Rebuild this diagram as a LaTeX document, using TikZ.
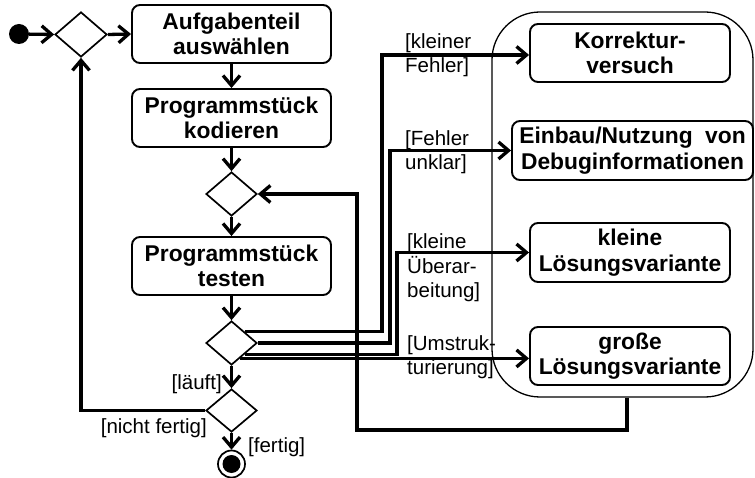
\documentclass[tikz,border=0pt]{standalone}
\usepackage{fontspec}
\setmainfont{Liberation Sans}
\usetikzlibrary{shapes.geometric,arrows.meta,calc}
\begin{document}
\begin{tikzpicture}[x=1pt,y=-1pt,
  box/.style={draw, line width=1.9pt, rounded corners=8pt, minimum width=199pt, minimum height=58pt, align=center, font=\bfseries\fontsize{22.8}{25.5}\selectfont, inner sep=0pt},
  dia/.style={draw, diamond, line width=1.7pt, minimum width=51pt, minimum height=44pt, inner sep=0pt},
  con/.style={line width=3.3pt, -{Straight Barb[length=10pt,width=17pt]}},
  lbl/.style={font=\fontsize{20.5}{24.5}\selectfont, inner sep=0pt, align=left}]
\useasboundingbox (0,0) rectangle (755,478);
% container region
\node (region) [draw, line width=1.3pt, rounded corners=48pt, minimum width=261pt, minimum height=385pt, inner sep=0pt] at (622.5,204.5) {};
% start
\node (start) [circle, fill=black, minimum size=20pt, inner sep=0pt] at (19,34) {};
\node (d1) [dia, minimum width=52pt, minimum height=45pt] at (81,34.5) {};
\node (b1) [box] at (231.5,34) {Aufgabenteil\\auswählen};
\node (b2) [box] at (231.5,118) {Programmstück\\kodieren};
\node (d2) [dia] at (231.5,194) {};
\node (b3) [box] at (231.5,266) {Programmstück\\testen};
\node (d3) [dia] at (231.5,343) {};
\node (d4) [dia, minimum height=43pt] at (231.5,410.5) {};
\node (endo) [circle, draw, line width=1.7pt, minimum size=27pt, inner sep=0pt] at (231.5,464) {};
\node (endi) [circle, fill=black, minimum size=18pt, inner sep=0pt] at (231.5,464) {};
% right boxes
\node (korr) [box, minimum width=200pt] at (630,53) {Korrektur-\\versuch};
\node (einb) [box, minimum width=241pt, minimum height=59pt] at (632.5,150.5) {Einbau/Nutzung\hspace{6pt} von\\Debuginformationen};
\node (klein) [box, minimum width=200pt, minimum height=59pt] at (630,252.5) {kleine\\Lösungsvariante};
\node (gross) [box, minimum width=200pt] at (630,356) {große\\Lösungsvariante};
% connectors
\draw[con] (start) -- (d1.west);
\draw[con] (d1.east) -- (b1.west);
\draw[con] (b1.south) -- (b2.north);
\draw[con] (b2.south) -- (d2.north);
\draw[con] (d2.south) -- (b3.north);
\draw[con] (b3.south) -- (d3.north);
\draw[con] (d3.south) -- (d4.north);
\draw[con] (d4.south) -- (endo.north);
\draw[con] (d4.west) -| (d1.south);
\coordinate (p1) at (d3.north east);
\coordinate (p2) at (d3.east);
\coordinate (p3) at (d3.south east);
\coordinate (p4) at ($(d3.south east)!0.35!(d3.south)$);
\coordinate (v1) at (382,0);
\coordinate (v2) at (390,0);
\coordinate (v3) at (397,0);
\draw[con] (p1) -- (p1 -| v1) |- ($(korr.west)+(0,2)$);
\draw[con] (p2) -- (p2 -| v2) |- (einb.west);
\draw[con] (p3) -- (p3 -| v3) |- (klein.west);
\draw[con] (p4) -- (p4 -| gross.west);
\coordinate (r0) at ([xshift=4.5pt]region.south);
\coordinate (r1) at (357,430);
\draw[con] (r0) |- (r1) |- (d2.east);
% labels
\node[lbl, anchor=west] (l1) at (405,55) {[kleiner\\Fehler]};
\node[lbl, anchor=west] (l2) at (405,152) {[Fehler\\unklar]};
\node[lbl, anchor=west] (l3) at (407,268) {[kleine\\Überar-\\beitung]};
\node[lbl, anchor=west] (l4) at (407,357) {[Umstruk-\\turierung]};
\node[lbl, anchor=east] (l5) at (222,384) {[läuft]};
\node[lbl, anchor=east] (l6) at (207,428) {[nicht fertig]};
\node[lbl, anchor=west] (l7) at (248,447) {[fertig]};
\end{tikzpicture}
\end{document}
